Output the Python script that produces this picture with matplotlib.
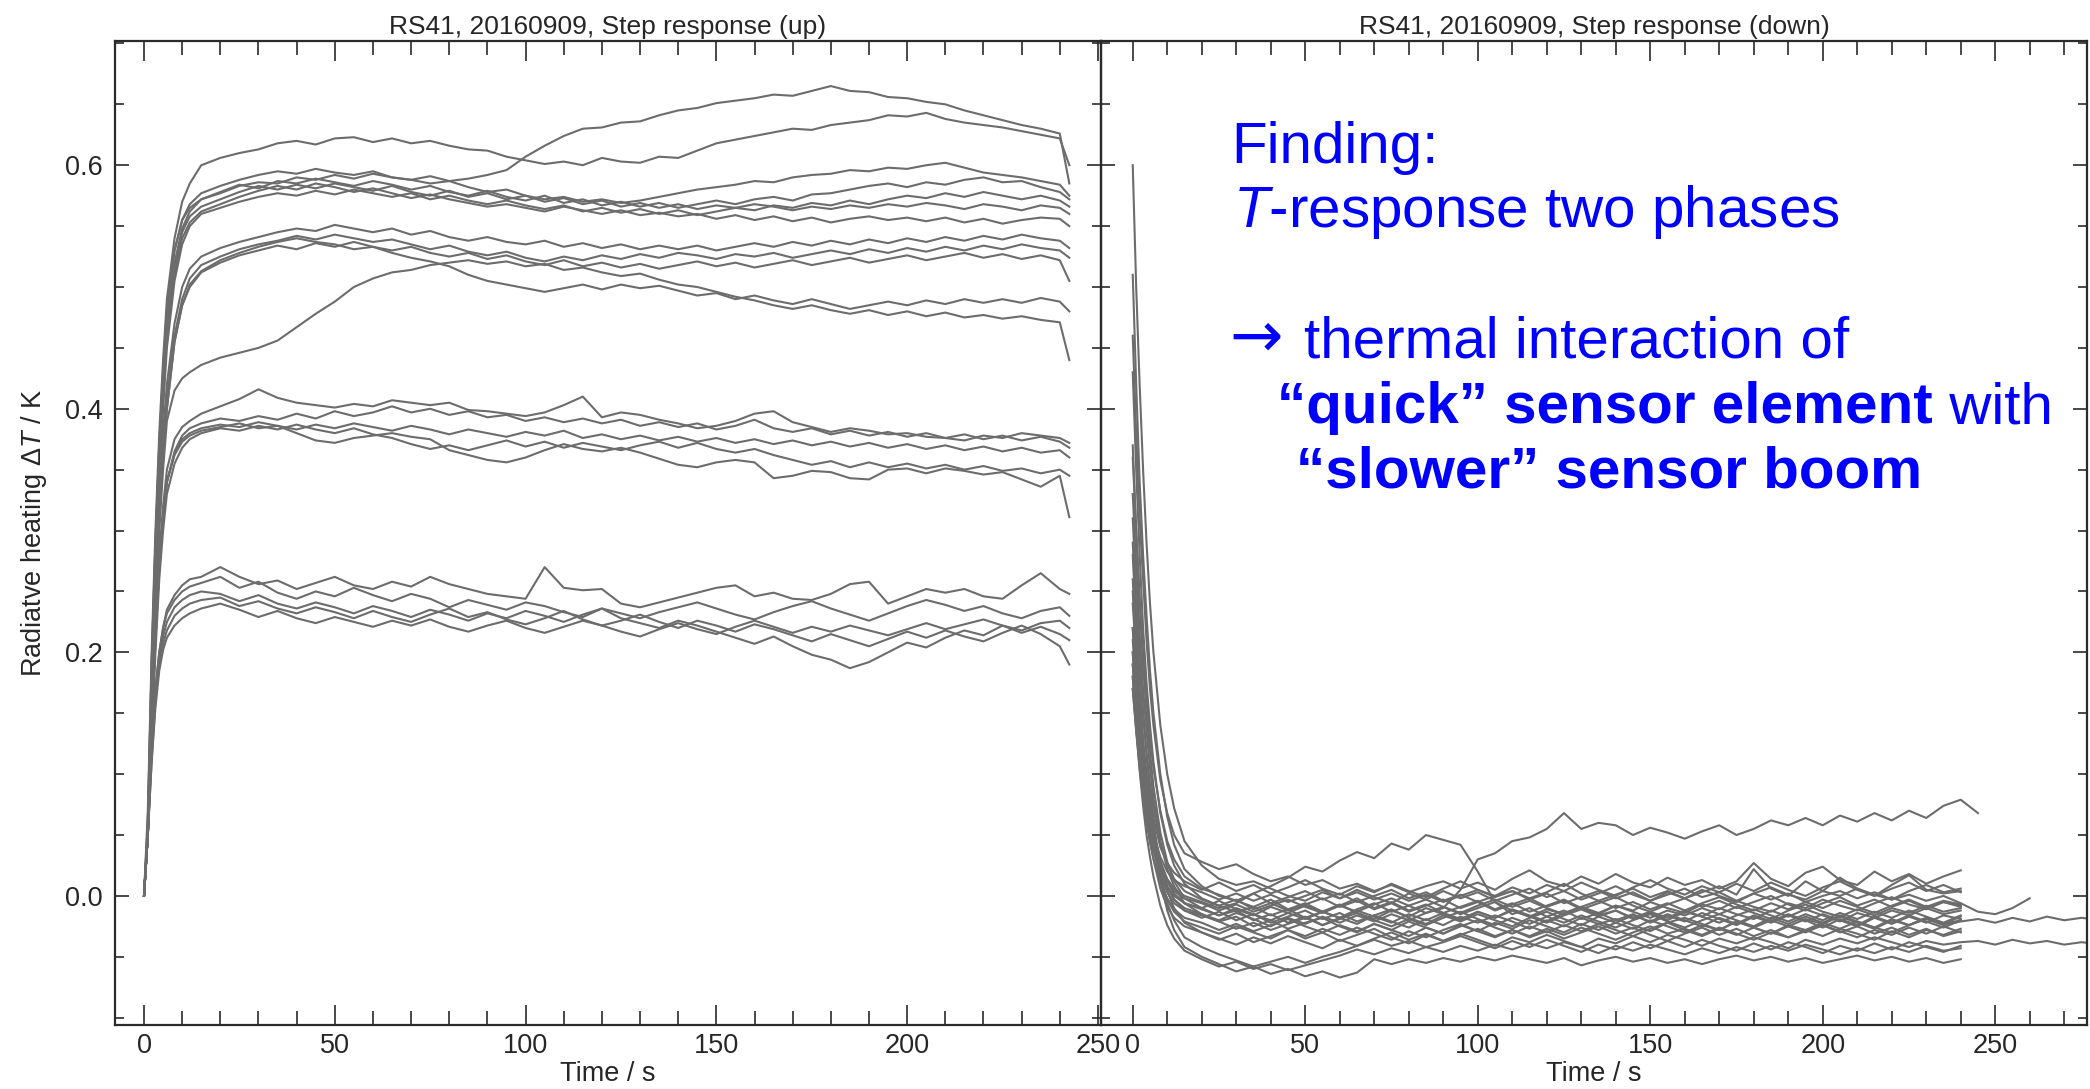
import matplotlib
matplotlib.use("Agg")
import matplotlib.pyplot as plt
from matplotlib.ticker import MultipleLocator, FormatStrFormatter

# ---------------- data: step response (up) ----------------
t_up = [0, 1, 2, 3, 4, 5, 6, 8, 10, 12, 15,
        20, 25, 30, 35, 40, 45, 50, 55, 60, 65, 70, 75, 80, 85, 90, 95, 100,
        105, 110, 115, 120, 125, 130, 135, 140, 145, 150, 155, 160, 165, 170,
        175, 180, 185, 190, 195, 200, 205, 210, 215, 220, 225, 230, 235, 240,
        242.5]

up_01 = [0, 0.07, 0.2, 0.3, 0.38, 0.44, 0.49, 0.54, 0.57, 0.585, 0.60,
         0.606, 0.61, 0.613, 0.618, 0.62, 0.617, 0.622, 0.623, 0.619, 0.622, 0.618, 0.62, 0.616, 0.613, 0.612,
         0.607, 0.604, 0.601, 0.603, 0.6, 0.606, 0.603, 0.602, 0.607, 0.606, 0.612, 0.618, 0.621, 0.624, 0.627,
         0.63, 0.629, 0.633, 0.635, 0.637, 0.641, 0.64, 0.643, 0.638, 0.635, 0.633, 0.631, 0.628, 0.625, 0.622,
         0.60]
up_02 = [0, 0.06, 0.19, 0.29, 0.37, 0.43, 0.48, 0.53, 0.555, 0.565, 0.572,
         0.577, 0.583, 0.586, 0.585, 0.59, 0.588, 0.592, 0.589, 0.593, 0.59, 0.588, 0.591, 0.587, 0.589, 0.592,
         0.596, 0.607, 0.616, 0.624, 0.63, 0.631, 0.635, 0.636, 0.641, 0.645, 0.647, 0.651, 0.653, 0.655, 0.658,
         0.657, 0.661, 0.665, 0.661, 0.66, 0.656, 0.655, 0.652, 0.65, 0.645, 0.641, 0.637, 0.633, 0.63, 0.626,
         0.585]
up_03 = [0, 0.06, 0.19, 0.29, 0.37, 0.43, 0.48, 0.53, 0.555, 0.568, 0.577,
         0.583, 0.588, 0.592, 0.595, 0.593, 0.597, 0.594, 0.592, 0.595, 0.59, 0.588, 0.585, 0.587, 0.582, 0.578,
         0.58, 0.575, 0.572, 0.574, 0.57, 0.572, 0.569, 0.571, 0.574, 0.577, 0.58, 0.582, 0.584, 0.587, 0.586,
         0.59, 0.592, 0.593, 0.596, 0.595, 0.598, 0.597, 0.6, 0.602, 0.598, 0.594, 0.592, 0.59, 0.587, 0.584,
         0.575]
up_04 = [0, 0.05, 0.18, 0.28, 0.36, 0.42, 0.47, 0.52, 0.548, 0.562, 0.572,
         0.578, 0.584, 0.581, 0.587, 0.585, 0.589, 0.586, 0.583, 0.587, 0.584, 0.58, 0.583, 0.578, 0.575, 0.579,
         0.574, 0.571, 0.575, 0.569, 0.572, 0.567, 0.57, 0.566, 0.569, 0.565, 0.568, 0.571, 0.568, 0.572, 0.574,
         0.571, 0.576, 0.577, 0.58, 0.583, 0.585, 0.582, 0.586, 0.584, 0.588, 0.59, 0.586, 0.587, 0.582, 0.578,
         0.572]
up_05 = [0, 0.05, 0.17, 0.27, 0.35, 0.41, 0.46, 0.515, 0.545, 0.558, 0.566,
         0.572, 0.578, 0.583, 0.58, 0.584, 0.581, 0.585, 0.582, 0.579, 0.583, 0.578, 0.575, 0.579, 0.574, 0.577,
         0.572, 0.575, 0.57, 0.573, 0.568, 0.571, 0.566, 0.569, 0.565, 0.568, 0.564, 0.567, 0.565, 0.568, 0.566,
         0.563, 0.566, 0.564, 0.567, 0.565, 0.568, 0.566, 0.569, 0.567, 0.564, 0.568, 0.566, 0.563, 0.567, 0.565,
         0.56]
up_06 = [0, 0.05, 0.17, 0.27, 0.35, 0.41, 0.46, 0.51, 0.54, 0.553, 0.562,
         0.568, 0.574, 0.579, 0.583, 0.58, 0.585, 0.582, 0.578, 0.581, 0.577, 0.573, 0.576, 0.572, 0.569, 0.566,
         0.568, 0.565, 0.562, 0.566, 0.563, 0.56, 0.563, 0.559, 0.561, 0.558, 0.56, 0.556, 0.559, 0.555, 0.558,
         0.554, 0.557, 0.553, 0.556, 0.558, 0.555, 0.557, 0.554, 0.557, 0.553, 0.556, 0.552, 0.555, 0.557, 0.556,
         0.55]
up_07 = [0, 0.05, 0.17, 0.27, 0.34, 0.4, 0.45, 0.505, 0.535, 0.55, 0.56,
         0.565, 0.57, 0.574, 0.577, 0.575, 0.579, 0.576, 0.58, 0.577, 0.574, 0.577, 0.572, 0.575, 0.571, 0.568,
         0.571, 0.567, 0.564, 0.567, 0.562, 0.565, 0.561, 0.564, 0.56, 0.563, 0.559, 0.562, 0.565, 0.563, 0.567,
         0.565, 0.569, 0.567, 0.571, 0.568, 0.572, 0.575, 0.573, 0.577, 0.574, 0.578, 0.575, 0.572, 0.575, 0.571,
         0.566]
up_08 = [0, 0.05, 0.16, 0.25, 0.32, 0.38, 0.42, 0.47, 0.5, 0.515, 0.525,
         0.532, 0.537, 0.541, 0.545, 0.548, 0.546, 0.551, 0.548, 0.545, 0.548, 0.543, 0.546, 0.541, 0.538, 0.541,
         0.537, 0.535, 0.538, 0.533, 0.536, 0.532, 0.535, 0.531, 0.534, 0.531, 0.534, 0.53, 0.533, 0.536, 0.533,
         0.537, 0.534, 0.538, 0.535, 0.539, 0.536, 0.54, 0.537, 0.541, 0.538, 0.542, 0.539, 0.543, 0.54, 0.538,
         0.532]
up_09 = [0, 0.05, 0.16, 0.25, 0.32, 0.37, 0.41, 0.46, 0.49, 0.507, 0.518,
         0.525, 0.531, 0.535, 0.538, 0.542, 0.539, 0.543, 0.54, 0.537, 0.539, 0.535, 0.531, 0.534, 0.529, 0.526,
         0.529, 0.524, 0.521, 0.525, 0.522, 0.526, 0.523, 0.527, 0.524, 0.528, 0.526, 0.523, 0.527, 0.525, 0.528,
         0.524, 0.527, 0.53, 0.527, 0.531, 0.528, 0.532, 0.529, 0.533, 0.53, 0.534, 0.531, 0.535, 0.532, 0.53,
         0.524]
up_10 = [0, 0.05, 0.15, 0.24, 0.31, 0.36, 0.4, 0.455, 0.485, 0.5, 0.512,
         0.52, 0.526, 0.53, 0.534, 0.531, 0.536, 0.533, 0.537, 0.533, 0.53, 0.533, 0.528, 0.525, 0.528, 0.523,
         0.526, 0.521, 0.518, 0.522, 0.517, 0.52, 0.516, 0.519, 0.515, 0.518, 0.521, 0.517, 0.52, 0.516, 0.519,
         0.522, 0.518, 0.521, 0.524, 0.52, 0.523, 0.526, 0.522, 0.525, 0.528, 0.524, 0.527, 0.523, 0.526, 0.522,
         0.505]
up_11 = [0, 0.05, 0.15, 0.24, 0.31, 0.36, 0.4, 0.455, 0.485, 0.502, 0.513,
         0.522, 0.528, 0.533, 0.537, 0.54, 0.537, 0.535, 0.531, 0.533, 0.528, 0.524, 0.521, 0.517, 0.51, 0.505,
         0.502, 0.499, 0.496, 0.499, 0.502, 0.498, 0.502, 0.499, 0.501, 0.497, 0.493, 0.495, 0.49, 0.493, 0.489,
         0.486, 0.49, 0.486, 0.482, 0.485, 0.488, 0.485, 0.489, 0.486, 0.49, 0.487, 0.49, 0.487, 0.491, 0.488,
         0.48]
up_12 = [0, 0.05, 0.15, 0.23, 0.3, 0.35, 0.39, 0.415, 0.425, 0.43, 0.436,
         0.442, 0.446, 0.45, 0.456, 0.467, 0.478, 0.488, 0.5, 0.507, 0.512, 0.514, 0.518, 0.52, 0.522, 0.519,
         0.521, 0.517, 0.519, 0.514, 0.516, 0.512, 0.509, 0.511, 0.506, 0.502, 0.5, 0.496, 0.492, 0.489, 0.485,
         0.482, 0.485, 0.481, 0.478, 0.481, 0.477, 0.48, 0.476, 0.479, 0.475, 0.477, 0.474, 0.476, 0.473, 0.471,
         0.44]
up_13 = [0, 0.05, 0.14, 0.22, 0.28, 0.32, 0.35, 0.375, 0.385, 0.39, 0.396,
         0.402, 0.408, 0.416, 0.409, 0.405, 0.403, 0.401, 0.404, 0.402, 0.407, 0.405, 0.403, 0.405, 0.399, 0.398,
         0.396, 0.394, 0.397, 0.403, 0.41, 0.393, 0.397, 0.395, 0.391, 0.388, 0.384, 0.386, 0.39, 0.396, 0.398,
         0.389, 0.385, 0.381, 0.384, 0.382, 0.379, 0.38, 0.377, 0.376, 0.374, 0.378, 0.376, 0.38, 0.378, 0.376,
         0.372]
up_14 = [0, 0.05, 0.14, 0.21, 0.27, 0.31, 0.34, 0.365, 0.378, 0.384, 0.388,
         0.392, 0.39, 0.394, 0.391, 0.396, 0.392, 0.398, 0.394, 0.397, 0.402, 0.397, 0.4, 0.395, 0.398, 0.393,
         0.395, 0.39, 0.393, 0.389, 0.392, 0.388, 0.391, 0.386, 0.389, 0.385, 0.388, 0.383, 0.386, 0.391, 0.384,
         0.381, 0.384, 0.379, 0.382, 0.378, 0.381, 0.377, 0.38, 0.376, 0.379, 0.375, 0.378, 0.374, 0.377, 0.373,
         0.368]
up_15 = [0, 0.05, 0.14, 0.21, 0.27, 0.31, 0.34, 0.363, 0.375, 0.38, 0.384,
         0.387, 0.385, 0.389, 0.386, 0.383, 0.387, 0.384, 0.388, 0.385, 0.382, 0.386, 0.383, 0.379, 0.383, 0.38,
         0.377, 0.381, 0.378, 0.382, 0.376, 0.379, 0.375, 0.378, 0.374, 0.377, 0.373, 0.376, 0.372, 0.375, 0.371,
         0.374, 0.37, 0.373, 0.369, 0.372, 0.368, 0.371, 0.367, 0.37, 0.366, 0.369, 0.365, 0.368, 0.364, 0.366,
         0.36]
up_16 = [0, 0.05, 0.14, 0.21, 0.27, 0.31, 0.34, 0.362, 0.373, 0.378, 0.382,
         0.385, 0.388, 0.384, 0.386, 0.38, 0.374, 0.372, 0.376, 0.378, 0.38, 0.377, 0.375, 0.366, 0.362, 0.358,
         0.356, 0.36, 0.366, 0.371, 0.367, 0.365, 0.368, 0.364, 0.359, 0.354, 0.352, 0.356, 0.358, 0.356, 0.343,
         0.345, 0.349, 0.348, 0.343, 0.342, 0.35, 0.351, 0.347, 0.351, 0.349, 0.346, 0.348, 0.342, 0.336, 0.345,
         0.311]
up_17 = [0, 0.05, 0.13, 0.2, 0.26, 0.3, 0.33, 0.355, 0.368, 0.375, 0.38,
         0.384, 0.382, 0.386, 0.383, 0.387, 0.383, 0.38, 0.384, 0.379, 0.376, 0.371, 0.367, 0.37, 0.366, 0.37,
         0.374, 0.369, 0.373, 0.368, 0.372, 0.369, 0.366, 0.37, 0.373, 0.368, 0.372, 0.367, 0.364, 0.367, 0.362,
         0.358, 0.354, 0.357, 0.352, 0.356, 0.352, 0.355, 0.351, 0.354, 0.35, 0.353, 0.349, 0.351, 0.347, 0.35,
         0.345]
up_18 = [0, 0.05, 0.12, 0.17, 0.2, 0.22, 0.235, 0.247, 0.255, 0.26, 0.262,
         0.27, 0.262, 0.256, 0.259, 0.252, 0.257, 0.262, 0.255, 0.252, 0.258, 0.254, 0.262, 0.256, 0.252, 0.248,
         0.246, 0.244, 0.27, 0.253, 0.251, 0.252, 0.24, 0.237, 0.241, 0.245, 0.249, 0.253, 0.255, 0.246, 0.249,
         0.244, 0.243, 0.248, 0.256, 0.258, 0.24, 0.246, 0.252, 0.249, 0.252, 0.246, 0.244, 0.255, 0.265, 0.252,
         0.248]
up_19 = [0, 0.05, 0.12, 0.17, 0.2, 0.22, 0.232, 0.243, 0.25, 0.254, 0.257,
         0.262, 0.253, 0.258, 0.249, 0.244, 0.25, 0.246, 0.253, 0.247, 0.242, 0.248, 0.244, 0.237, 0.243, 0.239,
         0.235, 0.241, 0.238, 0.233, 0.229, 0.236, 0.232, 0.228, 0.233, 0.237, 0.241, 0.236, 0.231, 0.227, 0.233,
         0.238, 0.242, 0.236, 0.231, 0.226, 0.232, 0.238, 0.243, 0.239, 0.234, 0.238, 0.232, 0.228, 0.234, 0.237,
         0.23]
up_20 = [0, 0.05, 0.12, 0.165, 0.195, 0.213, 0.225, 0.237, 0.243, 0.247, 0.25,
         0.248, 0.242, 0.247, 0.24, 0.236, 0.241, 0.237, 0.232, 0.238, 0.234, 0.229, 0.235, 0.231, 0.226, 0.232,
         0.228, 0.234, 0.23, 0.225, 0.231, 0.236, 0.228, 0.224, 0.22, 0.226, 0.222, 0.217, 0.212, 0.207, 0.213,
         0.205, 0.198, 0.194, 0.187, 0.192, 0.2, 0.208, 0.204, 0.212, 0.218, 0.214, 0.222, 0.216, 0.221, 0.215,
         0.21]
up_21 = [0, 0.05, 0.11, 0.16, 0.19, 0.207, 0.218, 0.23, 0.236, 0.24, 0.243,
         0.245, 0.238, 0.242, 0.236, 0.232, 0.237, 0.233, 0.228, 0.234, 0.229, 0.225, 0.231, 0.236, 0.229, 0.233,
         0.227, 0.223, 0.228, 0.234, 0.227, 0.222, 0.226, 0.231, 0.225, 0.22, 0.226, 0.222, 0.217, 0.223, 0.219,
         0.214, 0.209, 0.215, 0.21, 0.205, 0.211, 0.217, 0.212, 0.218, 0.213, 0.209, 0.216, 0.222, 0.215, 0.205,
         0.19]
up_22 = [0, 0.05, 0.11, 0.155, 0.185, 0.202, 0.212, 0.222, 0.228, 0.232, 0.236,
         0.24, 0.235, 0.229, 0.234, 0.228, 0.224, 0.229, 0.225, 0.221, 0.226, 0.222, 0.227, 0.221, 0.217, 0.222,
         0.226, 0.22, 0.216, 0.221, 0.226, 0.222, 0.217, 0.213, 0.219, 0.224, 0.219, 0.215, 0.221, 0.226, 0.221,
         0.216, 0.221, 0.217, 0.222, 0.218, 0.214, 0.219, 0.224, 0.219, 0.223, 0.227, 0.222, 0.218, 0.224, 0.226,
         0.22]

# ---------------- data: step response (down) ----------------
t_dn = [0, 1, 2, 3, 4, 5, 6, 8, 10, 12, 15,
        20, 25, 30, 35, 40, 45, 50, 55, 60, 65, 70, 75, 80, 85, 90, 95, 100,
        105, 110, 115, 120, 125, 130, 135, 140, 145, 150, 155, 160, 165, 170,
        175, 180, 185, 190, 195, 200, 205, 210, 215, 220, 225, 230, 235, 240,
        245, 250, 255, 260, 265, 270, 275, 278]

dn_01 = [0.60, 0.50, 0.42, 0.35, 0.29, 0.24, 0.2, 0.14, 0.1, 0.072, 0.045,
         0.025, 0.014, 0.009, 0.012, 0.006, 0.0, -0.004, 0.003, -0.002, 0.005, -0.001, -0.006, 0.002, -0.003, 0.004,
         -0.002, 0.003, -0.004, 0.001, 0.006, -0.001, 0.004, -0.003, 0.002, 0.008, 0.001, -0.004, 0.003, -0.002, 0.005,
         0.0, -0.005, 0.002, 0.007, 0.001, -0.003, 0.004, 0.0, 0.006, 0.001, -0.003, 0.004, 0.009, 0.003, 0.006]
dn_02 = [0.51, 0.42, 0.34, 0.28, 0.23, 0.185, 0.15, 0.1, 0.065, 0.042, 0.022,
         0.008, 0.0, -0.004, -0.009, -0.003, -0.011, -0.006, -0.013, -0.008, -0.002, -0.01, -0.005, -0.012, -0.007, -0.014,
         -0.009, -0.004, -0.011, -0.006, -0.013, -0.008, -0.003, -0.01, -0.015, -0.008, -0.012, -0.005, -0.01, -0.014, -0.007,
         -0.011, -0.004, -0.009, -0.013, -0.006, -0.01, -0.003, -0.008, -0.012, -0.006, -0.001, -0.007, -0.011, -0.005, -0.009]
dn_03 = [0.46, 0.38, 0.31, 0.26, 0.21, 0.17, 0.14, 0.095, 0.068, 0.05, 0.035,
         0.028, 0.022, 0.026, 0.018, 0.012, 0.016, 0.009, 0.013, 0.006, 0.01, 0.004, 0.009, 0.003, 0.008, 0.012,
         0.006, 0.011, 0.005, 0.014, 0.021, 0.012, 0.008, 0.016, 0.01, 0.018, 0.011, 0.007, 0.015, 0.009, 0.013,
         0.006, 0.012, 0.027, 0.014, 0.008, 0.019, 0.024, 0.013, 0.009, 0.02, 0.012, 0.018, 0.01, 0.016, 0.021]
dn_04 = [0.43, 0.35, 0.28, 0.22, 0.175, 0.14, 0.11, 0.068, 0.042, 0.025, 0.01,
         -0.002, -0.008, -0.013, -0.009, -0.016, -0.011, -0.018, -0.013, -0.007, -0.014, -0.019, -0.012, -0.017, -0.01, -0.015,
         -0.02, -0.013, -0.018, -0.011, -0.016, -0.021, -0.014, -0.009, -0.016, -0.012, -0.019, -0.014, -0.02, -0.013, -0.017,
         -0.01, -0.015, -0.019, -0.012, -0.017, -0.011, -0.016, -0.021, -0.014, -0.018, -0.012, -0.016, -0.01, -0.015, -0.012]
dn_05 = [0.37, 0.3, 0.24, 0.19, 0.15, 0.118, 0.09, 0.052, 0.028, 0.012, -0.002,
         -0.01, -0.016, -0.012, -0.02, -0.015, -0.022, -0.017, -0.024, -0.018, -0.023, -0.016, -0.021, -0.026, -0.019, -0.024,
         -0.017, -0.022, -0.016, -0.021, -0.027, -0.02, -0.025, -0.018, -0.023, -0.019, -0.024, -0.029, -0.022, -0.018, -0.023,
         -0.028, -0.021, -0.026, -0.02, -0.025, -0.019, -0.023, -0.017, -0.022, -0.027, -0.02, -0.024, -0.018, -0.023, -0.02]
dn_06 = [0.36, 0.3, 0.245, 0.2, 0.16, 0.13, 0.105, 0.07, 0.045, 0.03, 0.016,
         0.006, 0.001, -0.004, 0.002, -0.006, -0.001, 0.004, -0.003, 0.002, -0.005, 0.0, 0.005, -0.002, 0.003, -0.004,
         0.001, -0.005, 0.0, 0.004, -0.003, 0.002, -0.006, -0.001, 0.004, -0.002, 0.003, -0.004, 0.001, 0.006, -0.001,
         0.003, -0.004, 0.002, -0.003, 0.002, -0.005, 0.0, 0.004, -0.002, 0.003, -0.003, 0.001, -0.004, 0.0, -0.006,
         -0.013, -0.015, -0.01, -0.002]
dn_07 = [0.33, 0.27, 0.215, 0.17, 0.135, 0.105, 0.08, 0.045, 0.022, 0.008, -0.006,
         -0.015, -0.021, -0.017, -0.025, -0.02, -0.027, -0.022, -0.018, -0.025, -0.03, -0.023, -0.028, -0.021, -0.026, -0.031,
         -0.024, -0.029, -0.022, -0.027, -0.02, -0.025, -0.03, -0.023, -0.028, -0.022, -0.027, -0.02, -0.025, -0.03, -0.024,
         -0.028, -0.021, -0.026, -0.031, -0.024, -0.028, -0.022, -0.027, -0.021, -0.026, -0.03, -0.024, -0.019, -0.024, -0.021,
         -0.019, -0.022, -0.018, -0.021, -0.017, -0.02, -0.018, -0.019]
dn_08 = [0.31, 0.25, 0.195, 0.15, 0.115, 0.085, 0.06, 0.025, 0.004, -0.01, -0.022,
         -0.03, -0.036, -0.031, -0.038, -0.033, -0.028, -0.035, -0.03, -0.037, -0.032, -0.027, -0.034, -0.039, -0.032, -0.037,
         -0.031, -0.036, -0.041, -0.034, -0.038, -0.032, -0.037, -0.042, -0.035, -0.039, -0.033, -0.038, -0.032, -0.036, -0.041,
         -0.035, -0.039, -0.034, -0.038, -0.043, -0.036, -0.04, -0.035, -0.039, -0.034, -0.038, -0.042, -0.037, -0.04, -0.038,
         -0.037, -0.04, -0.036, -0.039, -0.037, -0.04, -0.038, -0.039]
dn_09 = [0.29, 0.235, 0.19, 0.15, 0.118, 0.092, 0.072, 0.043, 0.026, 0.014, 0.004,
         -0.003, -0.008, -0.003, -0.011, -0.006, -0.012, -0.007, -0.002, -0.009, -0.004, -0.011, -0.006, -0.013, -0.008, -0.003,
         -0.01, -0.005, -0.012, -0.007, -0.002, -0.009, -0.004, -0.011, -0.006, -0.001, -0.008, -0.013, -0.007, -0.002, -0.009,
         -0.004, -0.01, -0.005, 0.0, -0.007, -0.012, -0.006, -0.001, -0.008, -0.003, -0.009, -0.004, -0.01, -0.005, -0.008]
dn_10 = [0.28, 0.22, 0.17, 0.128, 0.095, 0.068, 0.046, 0.013, -0.012, -0.028, -0.042,
         -0.05, -0.056, -0.062, -0.058, -0.064, -0.06, -0.066, -0.062, -0.067, -0.063, -0.052, -0.056, -0.052, -0.055, -0.051,
         -0.054, -0.05, -0.053, -0.049, -0.052, -0.055, -0.051, -0.057, -0.053, -0.05, -0.054, -0.051, -0.055, -0.052, -0.056,
         -0.052, -0.049, -0.053, -0.05, -0.054, -0.051, -0.055, -0.052, -0.049, -0.053, -0.05, -0.054, -0.051, -0.055, -0.052]
dn_11 = [0.26, 0.205, 0.16, 0.122, 0.091, 0.066, 0.046, 0.016, -0.006, -0.02, -0.034,
         -0.042, -0.048, -0.053, -0.058, -0.054, -0.05, -0.055, -0.05, -0.046, -0.041, -0.036, -0.041, -0.037, -0.042, -0.038,
         -0.033, -0.038, -0.043, -0.037, -0.042, -0.036, -0.041, -0.046, -0.04, -0.044, -0.038, -0.043, -0.037, -0.042, -0.036,
         -0.041, -0.045, -0.039, -0.044, -0.038, -0.042, -0.047, -0.041, -0.045, -0.039, -0.044, -0.038, -0.042, -0.046, -0.041]
dn_12 = [0.25, 0.2, 0.158, 0.123, 0.095, 0.072, 0.054, 0.026, 0.008, -0.003, -0.012,
         -0.018, -0.013, -0.02, -0.015, -0.022, -0.017, -0.012, -0.019, -0.014, -0.021, -0.016, -0.011, -0.018, -0.023, -0.016,
         -0.021, -0.015, -0.02, -0.025, -0.018, -0.013, -0.019, -0.024, -0.017, -0.022, -0.016, -0.021, -0.015, -0.02, -0.025,
         -0.018, -0.023, -0.016, -0.021, -0.015, -0.02, -0.026, -0.019, -0.024, -0.017, -0.022, -0.016, -0.021, -0.026, -0.02]
dn_13 = [0.24, 0.195, 0.157, 0.126, 0.1, 0.08, 0.064, 0.04, 0.027, 0.019, 0.012,
         0.005, 0.011, 0.004, 0.009, 0.002, 0.007, 0.013, 0.006, 0.001, 0.008, 0.003, 0.01, 0.004, -0.001, 0.006,
         0.012, 0.005, 0.0, 0.007, 0.002, 0.009, 0.004, 0.011, 0.005, 0.0, 0.007, 0.013, 0.006, 0.001, 0.008,
         0.003, 0.01, 0.004, 0.011, 0.005, 0.0, 0.007, 0.012, 0.005, 0.0, 0.006, 0.011, 0.004, 0.009, 0.003]
dn_14 = [0.22, 0.175, 0.136, 0.104, 0.078, 0.057, 0.04, 0.014, -0.003, -0.013, -0.021,
         -0.026, -0.031, -0.025, -0.03, -0.035, -0.028, -0.033, -0.027, -0.032, -0.026, -0.031, -0.036, -0.029, -0.034, -0.028,
         -0.023, -0.029, -0.034, -0.028, -0.033, -0.027, -0.032, -0.026, -0.031, -0.036, -0.03, -0.025, -0.031, -0.027, -0.032,
         -0.026, -0.031, -0.036, -0.03, -0.034, -0.028, -0.033, -0.027, -0.031, -0.036, -0.029, -0.034, -0.028, -0.032, -0.027]
dn_15 = [0.22, 0.178, 0.142, 0.112, 0.088, 0.068, 0.052, 0.028, 0.012, 0.002, -0.006,
         -0.01, -0.004, -0.011, -0.016, -0.009, -0.014, -0.008, -0.013, -0.018, -0.011, -0.006, -0.013, -0.008, -0.014, -0.009,
         -0.015, -0.01, -0.005, -0.012, -0.017, -0.011, -0.015, -0.009, -0.014, -0.008, -0.013, -0.018, -0.012, -0.016, -0.01,
         -0.015, -0.009, -0.014, -0.019, -0.012, -0.007, -0.013, -0.017, -0.011, -0.016, -0.01, -0.014, -0.008, -0.013, -0.01]
dn_16 = [0.21, 0.17, 0.136, 0.108, 0.085, 0.066, 0.05, 0.028, 0.014, 0.006, 0.0,
         -0.005, -0.01, -0.006, 0.002, 0.008, 0.015, 0.024, 0.02, 0.029, 0.036, 0.031, 0.043, 0.038, 0.05, 0.046,
         0.042, 0.02, -0.005, -0.015, -0.01, -0.017, -0.012, -0.019, -0.014, -0.02, -0.015, -0.022, -0.016, -0.021, -0.014,
         -0.019, -0.024, -0.017, -0.022, -0.016, -0.021, -0.015, -0.02, -0.025, -0.018, -0.023, -0.017, -0.022, -0.016, -0.019]
dn_17 = [0.2, 0.16, 0.128, 0.1, 0.078, 0.06, 0.045, 0.022, 0.007, -0.003, -0.01,
         -0.015, -0.02, -0.014, -0.019, -0.025, -0.018, -0.023, -0.017, -0.022, -0.016, -0.021, -0.015, -0.02, -0.014, -0.01,
         0.005, 0.03, 0.035, 0.045, 0.048, 0.055, 0.068, 0.055, 0.06, 0.058, 0.05, 0.056, 0.052, 0.047, 0.053,
         0.058, 0.05, 0.055, 0.062, 0.058, 0.064, 0.058, 0.066, 0.061, 0.068, 0.062, 0.07, 0.064, 0.074, 0.079,
         0.068]
dn_18 = [0.2, 0.155, 0.118, 0.088, 0.064, 0.045, 0.03, 0.006, -0.009, -0.018, -0.025,
         -0.03, -0.035, -0.04, -0.034, -0.039, -0.033, -0.038, -0.043, -0.036, -0.041, -0.035, -0.03, -0.036, -0.031, -0.037,
         -0.032, -0.027, -0.033, -0.028, -0.034, -0.029, -0.035, -0.03, -0.025, -0.031, -0.026, -0.032, -0.037, -0.031, -0.026,
         -0.032, -0.027, -0.033, -0.028, -0.034, -0.029, -0.024, -0.03, -0.025, -0.031, -0.026, -0.032, -0.027, -0.033, -0.029]
dn_19 = [0.19, 0.155, 0.125, 0.1, 0.08, 0.064, 0.051, 0.032, 0.02, 0.013, 0.008,
         0.003, -0.003, 0.002, -0.004, 0.001, -0.005, 0.0, 0.005, -0.002, 0.003, -0.003, 0.002, -0.004, 0.001, -0.005,
         0.0, 0.005, -0.001, 0.004, -0.002, 0.003, 0.01, 0.002, -0.004, 0.001, 0.006, -0.001, 0.004, -0.002, 0.003,
         0.008, 0.001, 0.022, 0.006, 0.0, 0.012, 0.004, 0.015, 0.006, 0.0, 0.009, 0.017, 0.005, 0.002, 0.004]
dn_20 = [0.19, 0.15, 0.117, 0.09, 0.069, 0.052, 0.038, 0.017, 0.003, -0.006, -0.012,
         -0.016, -0.021, -0.027, -0.022, -0.028, -0.023, -0.018, -0.024, -0.019, -0.014, -0.02, -0.025, -0.019, -0.024, -0.018,
         -0.013, -0.019, -0.024, -0.018, -0.023, -0.017, -0.022, -0.016, -0.021, -0.026, -0.02, -0.015, -0.021, -0.026, -0.02,
         -0.015, -0.02, -0.025, -0.018, -0.023, -0.017, -0.022, -0.016, -0.021, -0.026, -0.019, -0.024, -0.018, -0.023, -0.017]
dn_21 = [0.18, 0.138, 0.103, 0.074, 0.05, 0.032, 0.016, -0.008, -0.024, -0.035, -0.045,
         -0.052, -0.058, -0.054, -0.06, -0.056, -0.061, -0.057, -0.053, -0.049, -0.044, -0.048, -0.043, -0.047, -0.042, -0.046,
         -0.041, -0.045, -0.04, -0.044, -0.039, -0.043, -0.038, -0.042, -0.047, -0.041, -0.045, -0.04, -0.044, -0.048, -0.043,
         -0.047, -0.042, -0.046, -0.041, -0.045, -0.04, -0.044, -0.048, -0.043, -0.047, -0.042, -0.046, -0.041, -0.045, -0.043]
dn_22 = [0.18, 0.145, 0.116, 0.092, 0.072, 0.056, 0.043, 0.024, 0.012, 0.004, -0.002,
         -0.006, -0.012, -0.007, -0.013, -0.008, -0.003, -0.009, -0.014, -0.008, -0.013, -0.007, -0.002, -0.008, -0.003, -0.009,
         -0.014, -0.008, -0.003, -0.009, -0.004, -0.01, -0.015, -0.009, -0.004, -0.01, -0.005, -0.011, -0.006, -0.012, -0.006,
         -0.001, -0.007, -0.012, -0.006, -0.011, -0.005, -0.01, -0.004, -0.009, -0.014, -0.008, -0.003, -0.009, -0.004, -0.007]
dn_23 = [0.17, 0.135, 0.105, 0.08, 0.06, 0.044, 0.031, 0.011, -0.002, -0.011, -0.018,
         -0.022, -0.028, -0.023, -0.029, -0.024, -0.019, -0.025, -0.03, -0.024, -0.029, -0.023, -0.028, -0.033, -0.026, -0.031,
         -0.025, -0.02, -0.026, -0.031, -0.025, -0.03, -0.024, -0.029, -0.023, -0.028, -0.033, -0.027, -0.022, -0.028, -0.033,
         -0.027, -0.032, -0.026, -0.031, -0.025, -0.03, -0.024, -0.029, -0.034, -0.028, -0.032, -0.026, -0.031, -0.025, -0.03]
dn_24 = [0.17, 0.137, 0.109, 0.086, 0.067, 0.052, 0.039, 0.02, 0.008, 0.0, -0.006,
         -0.011, -0.016, -0.01, -0.015, -0.02, -0.014, -0.019, -0.013, -0.018, -0.012, -0.017, -0.022, -0.015, -0.02, -0.014,
         -0.019, -0.013, -0.018, -0.012, -0.017, -0.022, -0.016, -0.011, -0.017, -0.012, -0.018, -0.013, -0.018, -0.012, -0.017,
         -0.022, -0.016, -0.011, -0.016, -0.021, -0.015, -0.02, -0.014, -0.019, -0.013, -0.018, -0.012, -0.017, -0.022, -0.016]

up_series = [up_01, up_02, up_03, up_04, up_05, up_06, up_07, up_08, up_09, up_10, up_11,
             up_12, up_13, up_14, up_15, up_16, up_17, up_18, up_19, up_20, up_21, up_22]
dn_series = [dn_01, dn_02, dn_03, dn_04, dn_05, dn_06, dn_07, dn_08, dn_09, dn_10, dn_11, dn_12,
             dn_13, dn_14, dn_15, dn_16, dn_17, dn_18, dn_19, dn_20, dn_21, dn_22, dn_23, dn_24]

x_ticks = [0, 50, 100, 150, 200, 250]
y_ticks = [0.0, 0.2, 0.4, 0.6]
title_up = "RS41, 20160909, Step response (up)"
title_dn = "RS41, 20160909, Step response (down)"
x_label = "Time / s"
y_label = "Radiatve heating Δ$T$ / K"

# ---------------- style ----------------
plt.rcParams['font.family'] = ['Liberation Sans', 'DejaVu Sans']
plt.rcParams['mathtext.fontset'] = 'custom'
plt.rcParams['mathtext.rm'] = 'Liberation Sans'
plt.rcParams['mathtext.it'] = 'Liberation Sans:italic'
plt.rcParams['mathtext.bf'] = 'Liberation Sans:bold'

W, H = 2090, 1089
LINE = '#6c6c6c'
TXT = '#262626'
BLUE = '#0000ff'

fig = plt.figure(figsize=(W / 100, H / 100), dpi=100)
axL = fig.add_axes([115 / W, 1 - 1025 / H, (1101 - 115) / W, (1025 - 41) / H])
axR = fig.add_axes([1101 / W, 1 - 1025 / H, (2087 - 1101) / W, (1025 - 41) / H])

for v in up_series:
    n = min(len(t_up), len(v))
    axL.plot(t_up[:n], v[:n], color=LINE, lw=1.5)
for v in dn_series:
    n = min(len(t_dn), len(v))
    axR.plot(t_dn[:n], v[:n], color=LINE, lw=1.5)

axL.set_xlim(-7.6, 250.8)
axR.set_xlim(-9.2, 276.6)
for ax in (axL, axR):
    ax.set_ylim(-0.106, 0.702)
    ax.set_xticks(x_ticks)
    ax.xaxis.set_minor_locator(MultipleLocator(10))
    ax.set_yticks(y_ticks)
    ax.yaxis.set_minor_locator(MultipleLocator(0.05))
    ax.yaxis.set_major_formatter(FormatStrFormatter('%.1f'))
    ax.tick_params(which='both', direction='in', top=True, right=True,
                   labelsize=19.5, colors='#2a2a2a', labelcolor=TXT, width=1.2)
    ax.tick_params(axis='x', which='major', length=14.5, pad=6)
    ax.tick_params(axis='x', which='minor', length=10)
    ax.tick_params(axis='y', which='major', length=10, pad=9)
    ax.tick_params(axis='y', which='minor', length=6.5)
    for s in ax.spines.values():
        s.set_linewidth(1.6)
        s.set_color('#2a2a2a')
    ax.set_xlabel(x_label, fontsize=19.5, color=TXT, labelpad=1)
    ax.patch.set_alpha(0)

axR.tick_params(axis='y', labelleft=False)
axL.set_ylabel(y_label, fontsize=19.5, color=TXT, labelpad=11)
axL.set_title(title_up, fontsize=19, color=TXT, pad=5)
axR.set_title(title_dn, fontsize=19, color=TXT, pad=5)

# ---------------- annotation ----------------
FS = 42
def fx(px):
    return px / W
def fy(py):
    return 1 - py / H

fig.text(fx(1231), fy(163), "Finding:", fontsize=FS, color=BLUE, va='baseline')
fig.text(fx(1233), fy(227), "$T$-response two phases", fontsize=FS, color=BLUE, va='baseline')
fig.text(fx(1229), fy(357), "\u2192", fontsize=46, color=BLUE, va='baseline', family='DejaVu Sans')
fig.text(fx(1304), fy(357), "thermal interaction of", fontsize=FS, color=BLUE, va='baseline')
b1 = fig.text(fx(1277), fy(423), "\u201cquick\u201d sensor element", fontsize=FS, color=BLUE,
              va='baseline', fontweight='bold')
renderer = fig.canvas.get_renderer()
bb = b1.get_window_extent(renderer=renderer)
fig.text(bb.x1 / W, fy(423), " with", fontsize=FS, color=BLUE, va='baseline')
fig.text(fx(1296), fy(487), "\u201cslower\u201d sensor boom", fontsize=FS, color=BLUE,
         va='baseline', fontweight='bold')

fig.savefig("out.png", dpi=100)
